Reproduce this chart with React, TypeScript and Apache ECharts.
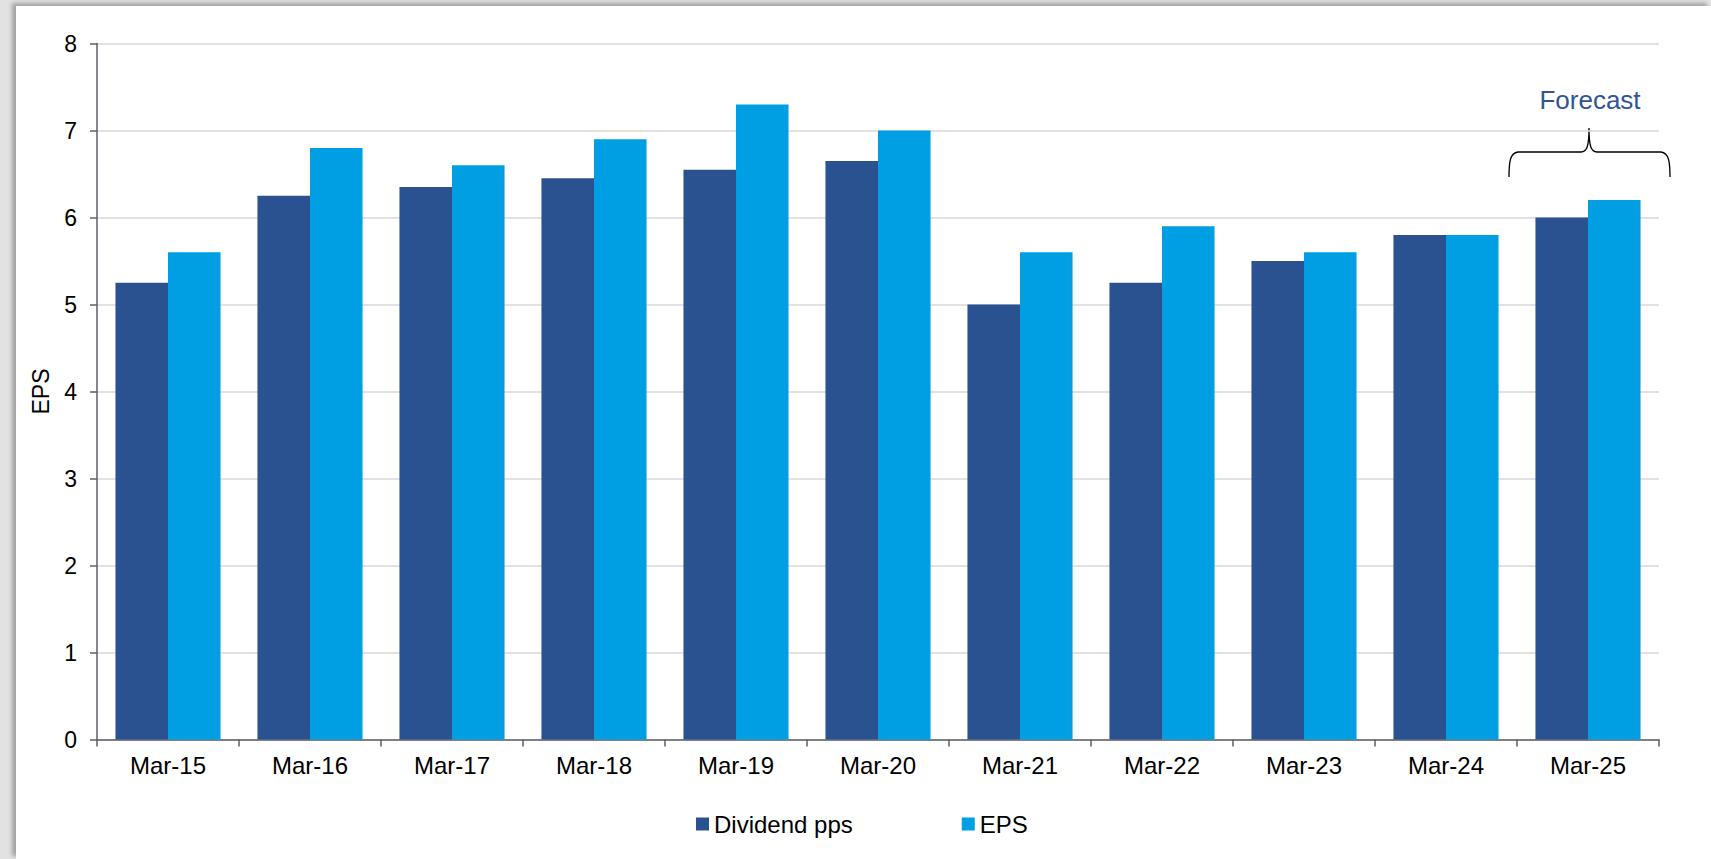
import React, { useEffect, useRef } from "react";
import * as echarts from "echarts";

const categories = ["Mar-15", "Mar-16", "Mar-17", "Mar-18", "Mar-19", "Mar-20", "Mar-21", "Mar-22", "Mar-23", "Mar-24", "Mar-25"];
const dividendPps = [5.25, 6.25, 6.35, 6.45, 6.55, 6.65, 5.0, 5.25, 5.5, 5.8, 6.0];
const eps = [5.6, 6.8, 6.6, 6.9, 7.3, 7.0, 5.6, 5.9, 5.6, 5.8, 6.2];
const yTicks = { min: 0, max: 8, interval: 1 };
const annotationLabel = "Forecast";

const FONT = "'Liberation Sans', Arial, sans-serif";

let braceRegistered = false;
function registerBrace() {
  if (braceRegistered) return;
  const d =
    "M1509,177 C1509,162 1510,153 1518,152 L1581,152 C1587,152 1589,146 1589,128 C1589,146 1591,152 1597,152 L1661,152 C1669,153 1670,162 1670,177";
  echarts.graphic.registerShape("brace", echarts.graphic.extendPath(d, {}));
  braceRegistered = true;
}

export default function App() {
  const ref = useRef<HTMLDivElement>(null);

  useEffect(() => {
    document.body.style.margin = "0";
    registerBrace();
    const chart = echarts.init(ref.current!, null, { renderer: "svg" });
    chart.setOption({
      animation: false,
      backgroundColor: "transparent",
      textStyle: { fontFamily: FONT },
      grid: { left: 97, right: 52, top: 43.5, bottom: 119.5, containLabel: false },
      legend: {
        left: 691,
        top: 807,
        itemWidth: 13,
        itemHeight: 13,
        itemGap: 109,
        icon: "rect",
        textStyle: { fontSize: 24, color: "#000", fontFamily: FONT },
        data: ["Dividend pps", "EPS"],
      },
      xAxis: {
        type: "category",
        data: categories,
        axisLine: { lineStyle: { color: "#5b6068", width: 1.5 } },
        axisTick: { show: true, length: 7, lineStyle: { color: "#5b6068", width: 1.5 } },
        axisLabel: { fontSize: 24, color: "#000", margin: 14, fontFamily: FONT },
      },
      yAxis: {
        type: "value",
        min: yTicks.min,
        max: yTicks.max,
        interval: yTicks.interval,
        name: "EPS",
        nameLocation: "middle",
        nameGap: 45,
        nameTextStyle: { fontSize: 23, color: "#000", fontFamily: FONT },
        axisLine: { show: true, lineStyle: { color: "#5b6068", width: 1.5 } },
        axisTick: { show: true, length: 7, lineStyle: { color: "#5b6068", width: 1.5 } },
        axisLabel: { fontSize: 23, color: "#000", margin: 20, fontFamily: FONT },
        splitLine: { lineStyle: { color: "#d9d9d9", width: 1.5 } },
      },
      series: [
        {
          name: "Dividend pps",
          type: "bar",
          data: dividendPps,
          barGap: "0%",
          barCategoryGap: "26%",
          itemStyle: { color: "#2a5190" },
        },
        {
          name: "EPS",
          type: "bar",
          data: eps,
          barGap: "0%",
          barCategoryGap: "26%",
          itemStyle: { color: "#009fe3" },
        },
      ],
      graphic: [
        {
          type: "text",
          x: 1590,
          y: 100,
          style: {
            text: annotationLabel,
            fontSize: 26,
            fontFamily: FONT,
            fill: "#2f5597",
            align: "center",
            verticalAlign: "middle",
          },
        },
        {
          type: "brace",
          x: 0,
          y: 0,
          style: { fill: "none", stroke: "#000", lineWidth: 1.3 },
        },
      ],
    });
    return () => chart.dispose();
  }, []);

  return (
    <div style={{ position: "relative", width: 1711, height: 859, background: "#e2e2e2", overflow: "hidden" }}>
      <div
        style={{
          position: "absolute",
          left: 16,
          top: 6,
          right: 0,
          bottom: 0,
          background: "#fff",
          boxShadow: "-4px -3px 4px rgba(0,0,0,0.28)",
        }}
      />
      <div ref={ref} style={{ position: "absolute", left: 0, top: 0, width: 1711, height: 859 }} />
    </div>
  );
}
